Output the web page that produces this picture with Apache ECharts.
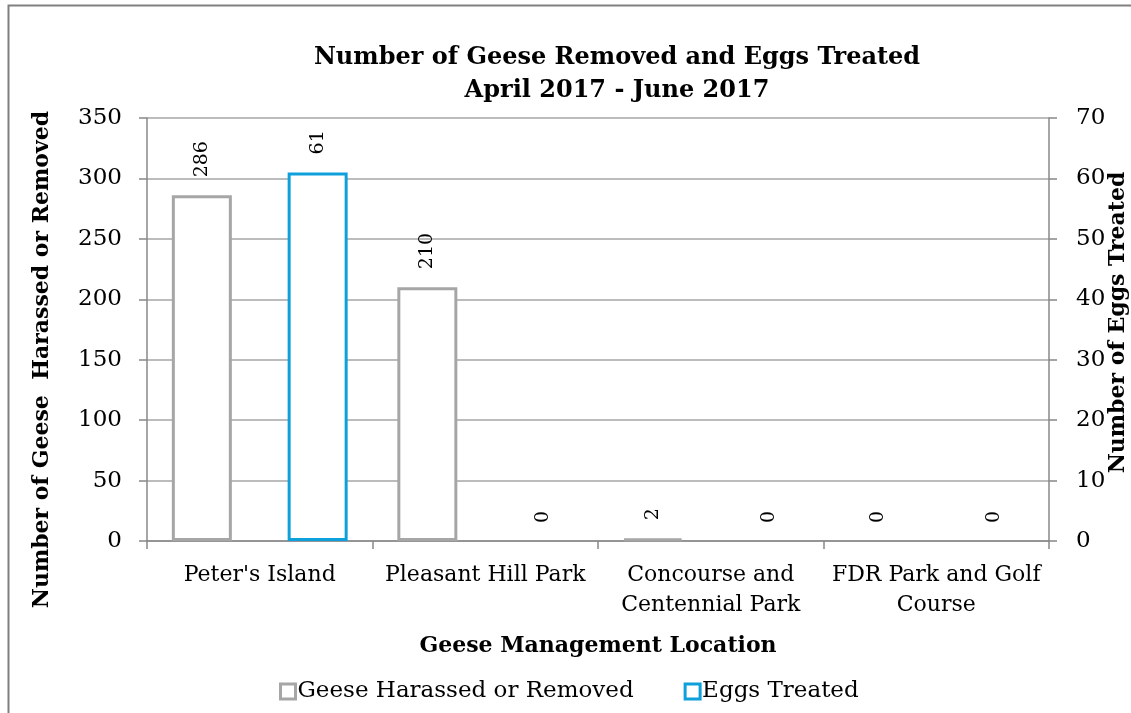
<!DOCTYPE html>
<html>
<head>
<meta charset="utf-8">
<script src="https://cdn.jsdelivr.net/npm/echarts@6/dist/echarts.min.js"></script>
<style>
  html, body { margin: 0; padding: 0; background: #fff; }
  #geese-chart { width: 1131px; height: 713px; }
</style>
</head>
<body>
<div id="geese-chart"></div>
<script>
// locations (x axis)
var locations = [
  "Peter's Island",
  "Pleasant Hill Park",
  "Concourse and\nCentennial Park",
  "FDR Park and Golf\nCourse"
];
// left axis series
var geeseRemoved = [286, 210, 2, 0];
// right axis series
var eggsTreated = [61, 0, 0, 0];
// tick ranges
var leftTicks = { min: 0, max: 350, interval: 50 };
var rightTicks = { min: 0, max: 70, interval: 10 };

var fontName = "DejaVu Serif";
var gray = "#A6A6A6";
var blue = "#0DA0DB";
var axisGray = "#888888";

// zero values get no visible outline (like the original)
function barData(arr) {
  return arr.map(function (v) {
    if (v === 0) {
      return { value: v, itemStyle: { borderWidth: 0 } };
    }
    return v;
  });
}

var barLabel = {
  show: true,
  position: "top",
  rotate: 90,
  align: "left",
  verticalAlign: "middle",
  distance: 18,
  fontFamily: fontName,
  fontSize: 19,
  color: "#000"
};

var chartDom = document.getElementById("geese-chart");
var myChart = echarts.init(chartDom);

var option = {
  backgroundColor: "#fff",
  animation: false,
  textStyle: { fontFamily: fontName, color: "#000" },
  graphic: [
    {
      // outer chart border (cut off at right/bottom like the original)
      type: "rect",
      shape: { x: 8.5, y: 5.5, width: 1200, height: 800 },
      style: { fill: "none", stroke: "#808080", lineWidth: 2 },
      silent: true
    }
  ],
  title: {
    text: "Number of Geese Removed and Eggs Treated\nApril 2017 - June 2017",
    left: 617,
    top: 41,
    textAlign: "center",
    padding: 0,
    textStyle: {
      fontFamily: fontName,
      fontWeight: "bold",
      fontSize: 24,
      lineHeight: 33,
      color: "#000"
    }
  },
  legend: {
    left: 274,
    top: 675,
    icon: "rect",
    itemWidth: 15,
    itemHeight: 15,
    itemGap: 50,
    itemStyle: { borderWidth: 3 },
    textStyle: { fontFamily: fontName, fontSize: 23, color: "#000", padding: [0, 0, 0, -3] },
    data: ["Geese Harassed or Removed", "Eggs Treated"]
  },
  grid: {
    left: 147,
    right: 82,
    top: 118,
    bottom: 172,
    outerBoundsMode: "none",
    containLabel: false
  },
  xAxis: [
    {
      type: "category",
      data: locations,
      name: "Geese Management Location",
      nameLocation: "middle",
      nameGap: 94,
      nameTextStyle: { fontFamily: fontName, fontWeight: "bold", fontSize: 22, color: "#000" },
      axisLine: { show: true, lineStyle: { color: axisGray, width: 1.5 } },
      axisTick: { show: true, length: 8, lineStyle: { color: axisGray, width: 1.5 } },
      axisLabel: {
        interval: 0,
        margin: 19,
        fontFamily: fontName,
        fontSize: 22,
        lineHeight: 30,
        color: "#000"
      }
    }
  ],
  yAxis: [
    {
      type: "value",
      min: leftTicks.min,
      max: leftTicks.max,
      interval: leftTicks.interval,
      name: "Number of Geese  Harassed or Removed",
      nameLocation: "middle",
      nameRotate: 90,
      nameGap: 94,
      nameTextStyle: {
        fontFamily: fontName,
        fontWeight: "bold",
        fontSize: 22,
        color: "#000",
        padding: [0, 60, 0, 0]
      },
      axisLine: { show: true, lineStyle: { color: axisGray, width: 1.5 } },
      axisTick: { show: true, length: 8, lineStyle: { color: axisGray, width: 1.5 } },
      splitLine: { show: true, lineStyle: { color: gray, width: 1.5 } },
      axisLabel: { margin: 25, fontFamily: fontName, fontSize: 23, color: "#000" }
    },
    {
      type: "value",
      position: "right",
      min: rightTicks.min,
      max: rightTicks.max,
      interval: rightTicks.interval,
      name: "Number of Eggs Treated",
      nameLocation: "middle",
      nameRotate: 90,
      nameGap: 58,
      nameMoveOverlap: false,
      nameTextStyle: {
        fontFamily: fontName,
        fontWeight: "bold",
        fontSize: 22,
        color: "#000",
        padding: [0, 0, 0, 14]
      },
      axisLine: { show: true, lineStyle: { color: axisGray, width: 1.5 } },
      axisTick: { show: true, length: 8, lineStyle: { color: axisGray, width: 1.5 } },
      splitLine: { show: false },
      axisLabel: { margin: 27, fontFamily: fontName, fontSize: 23, color: "#000" }
    }
  ],
  series: [
    {
      name: "Geese Harassed or Removed",
      type: "bar",
      yAxisIndex: 0,
      barWidth: 60,
      barGap: "93%",
      data: barData(geeseRemoved),
      itemStyle: { color: "#fff", borderColor: gray, borderWidth: 3 },
      label: barLabel
    },
    {
      name: "Eggs Treated",
      type: "bar",
      yAxisIndex: 1,
      barWidth: 60,
      barGap: "93%",
      data: barData(eggsTreated),
      itemStyle: { color: "#fff", borderColor: blue, borderWidth: 3 },
      label: barLabel
    }
  ]
};

myChart.setOption(option);
</script>
</body>
</html>
